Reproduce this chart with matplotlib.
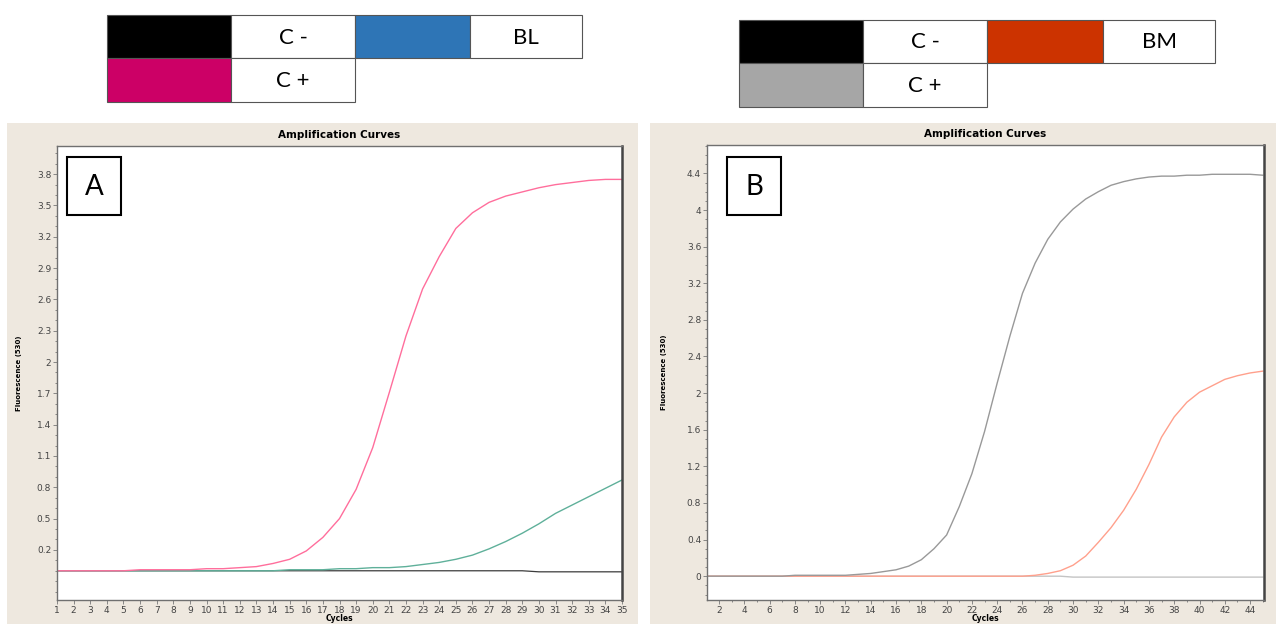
import numpy as np
import matplotlib
matplotlib.use('Agg')
import matplotlib.pyplot as plt
from matplotlib.patches import Rectangle
from matplotlib.ticker import FixedLocator, MultipleLocator

W, H = 1276, 624

# panel A : cycles 1-35
cycles_a = list(range(1, 36))
cpos_a = [0.0, 0.0, 0.0, 0.0, 0.0, 0.01, 0.01, 0.01, 0.01, 0.02,
          0.02, 0.03, 0.04, 0.07, 0.11, 0.19, 0.32, 0.50, 0.78, 1.18,
          1.71, 2.25, 2.70, 3.01, 3.28, 3.43, 3.53, 3.59, 3.63, 3.67,
          3.70, 3.72, 3.74, 3.75, 3.75]
bl_a = [0.0, 0.0, 0.0, 0.0, 0.0, 0.0, 0.0, 0.0, 0.0, 0.0,
        0.0, 0.0, 0.0, 0.0, 0.01, 0.01, 0.01, 0.02, 0.02, 0.03,
        0.03, 0.04, 0.06, 0.08, 0.11, 0.15, 0.21, 0.28, 0.36, 0.45,
        0.55, 0.63, 0.71, 0.79, 0.87]
cneg_a = [0.0] * 29 + [-0.01] * 6

# panel B : cycles 1-45
cycles_b = list(range(1, 46))
cpos_b = [0.0, 0.0, 0.0, 0.0, 0.0, 0.0, 0.0, 0.01, 0.01, 0.01,
          0.01, 0.01, 0.02, 0.03, 0.05, 0.07, 0.11, 0.18, 0.30, 0.45,
          0.76, 1.12, 1.58, 2.11, 2.62, 3.09, 3.42, 3.68, 3.87, 4.01,
          4.12, 4.20, 4.27, 4.31, 4.34, 4.36, 4.37, 4.37, 4.38, 4.38,
          4.39, 4.39, 4.39, 4.39, 4.38]
bm_b = [0.0] * 26 + [0.01, 0.03, 0.06, 0.12, 0.22, 0.37, 0.53, 0.72, 0.95,
                     1.22, 1.52, 1.74, 1.90, 2.01, 2.08, 2.15, 2.19, 2.22, 2.24]
cneg_b = [0.0] * 29 + [-0.01] * 16

yticks_a = [0.2, 0.5, 0.8, 1.1, 1.4, 1.7, 2, 2.3, 2.6, 2.9, 3.2, 3.5, 3.8]
yticks_b = [0, 0.4, 0.8, 1.2, 1.6, 2, 2.4, 2.8, 3.2, 3.6, 4, 4.4]
xticks_a = list(range(1, 36))
xticks_b = list(range(2, 45, 2))

legend_a = [('#000000', 'C -'), ('#2E75B6', 'BL'), ('#CC0066', 'C +')]
legend_b = [('#000000', 'C -'), ('#CC3300', 'BM'), ('#A6A6A6', 'C +')]


def fig_rect(l, t, r, b):
    return [l / W, 1 - b / H, (r - l) / W, (b - t) / H]


fig = plt.figure(figsize=(W / 100, H / 100), dpi=100)
fig.patch.set_facecolor('white')

bg = fig.add_axes([0, 0, 1, 1])
bg.set_zorder(-1)
bg.set_xlim(0, W)
bg.set_ylim(H, 0)
bg.axis('off')
bg.add_patch(Rectangle((7, 123), 631, 501, color='#EEE8DF', lw=0))
bg.add_patch(Rectangle((650, 123), 626, 501, color='#EEE8DF', lw=0))

top = fig.add_axes([0, 0, 1, 1])
top.set_zorder(5)
top.set_xlim(0, W)
top.set_ylim(H, 0)
top.axis('off')
top.patch.set_alpha(0)


def draw_table(edges, rows, entries):
    cells = [(0, 0), (0, 2), (1, 0)]
    for (r, c), (col, lab) in zip(cells, entries):
        y0, y1 = rows[r], rows[r + 1]
        top.add_patch(Rectangle((edges[c], y0), edges[c + 1] - edges[c], y1 - y0,
                                fc=col, ec='#555555', lw=0.8))
        top.add_patch(Rectangle((edges[c + 1], y0), edges[c + 2] - edges[c + 1], y1 - y0,
                                fc='white', ec='#555555', lw=0.8))
        top.text((edges[c + 1] + edges[c + 2]) / 2, (y0 + y1) / 2 + 1, lab,
                 ha='center', va='center', fontsize=16, family='Lato')


draw_table([107, 231, 355, 470, 582], [15, 58, 102], legend_a)
draw_table([739, 863, 987, 1103, 1215], [20, 63, 107], legend_b)


def style_axes(ax, xlim, ylim, xticks, yticks, yminor, xminor=None):
    ax.set_facecolor('white')
    ax.set_xlim(*xlim)
    ax.set_ylim(*ylim)
    ax.xaxis.set_major_locator(FixedLocator(xticks))
    ax.set_xticklabels([str(t) for t in xticks])
    if xminor:
        ax.xaxis.set_minor_locator(MultipleLocator(xminor))
    ax.yaxis.set_major_locator(FixedLocator(yticks))
    ax.set_yticklabels([f'{t:g}' for t in yticks])
    ax.yaxis.set_minor_locator(MultipleLocator(yminor))
    ax.tick_params(which='both', direction='out', color='#777777', width=0.6,
                   labelsize=6.5, labelcolor='#444444', pad=1.2)
    ax.tick_params(which='major', length=3)
    ax.tick_params(which='minor', length=1.5)
    for s in ax.spines.values():
        s.set_color('#707070')
        s.set_linewidth(1.0)
    ax.spines['right'].set_color('#444444')
    ax.spines['right'].set_linewidth(1.8)
    ax.set_title('Amplification Curves', fontsize=7.5, fontweight='heavy', pad=6)
    ax.set_xlabel('Cycles', fontsize=5.5, fontweight='bold')
    ax.set_ylabel('Fluorescence (530)', fontsize=5, fontweight='bold')


# panel A
ax1 = fig.add_axes(fig_rect(57, 146, 622, 600))
ax1.plot(cycles_a, cneg_a, color='#3c3c3c', lw=0.9)
ax1.plot(cycles_a, bl_a, color='#5FB09A', lw=1.0)
ax1.plot(cycles_a, cpos_a, color='#FF6E9C', lw=1.0)
style_axes(ax1, (1, 35), (-0.28, 4.07), xticks_a, yticks_a, 0.1)
ax1.xaxis.set_label_coords(0.5, -0.031)
ax1.yaxis.set_label_coords(-0.062, 0.5)

# panel B
ax2 = fig.add_axes(fig_rect(707, 145, 1264, 600))
ax2.plot(cycles_b, cneg_b, color='#c4c4c4', lw=1.0)
ax2.plot(cycles_b, bm_b, color='#FFA08C', lw=1.0)
ax2.plot(cycles_b, cpos_b, color='#999999', lw=1.0)
style_axes(ax2, (1.05, 45.1), (-0.26, 4.71), xticks_b, yticks_b, 0.1, xminor=1)
ax2.xaxis.set_label_coords(0.5, -0.031)
ax2.yaxis.set_label_coords(-0.072, 0.5)

# letter boxes
for (x0, lab) in [(67, 'A'), (727, 'B')]:
    top.add_patch(Rectangle((x0, 157), 54, 58, fc='white', ec='black', lw=1.5))
    top.text(x0 + 27, 187, lab, ha='center', va='center', fontsize=20, family='Lato')

fig.savefig('out.png', dpi=100)
